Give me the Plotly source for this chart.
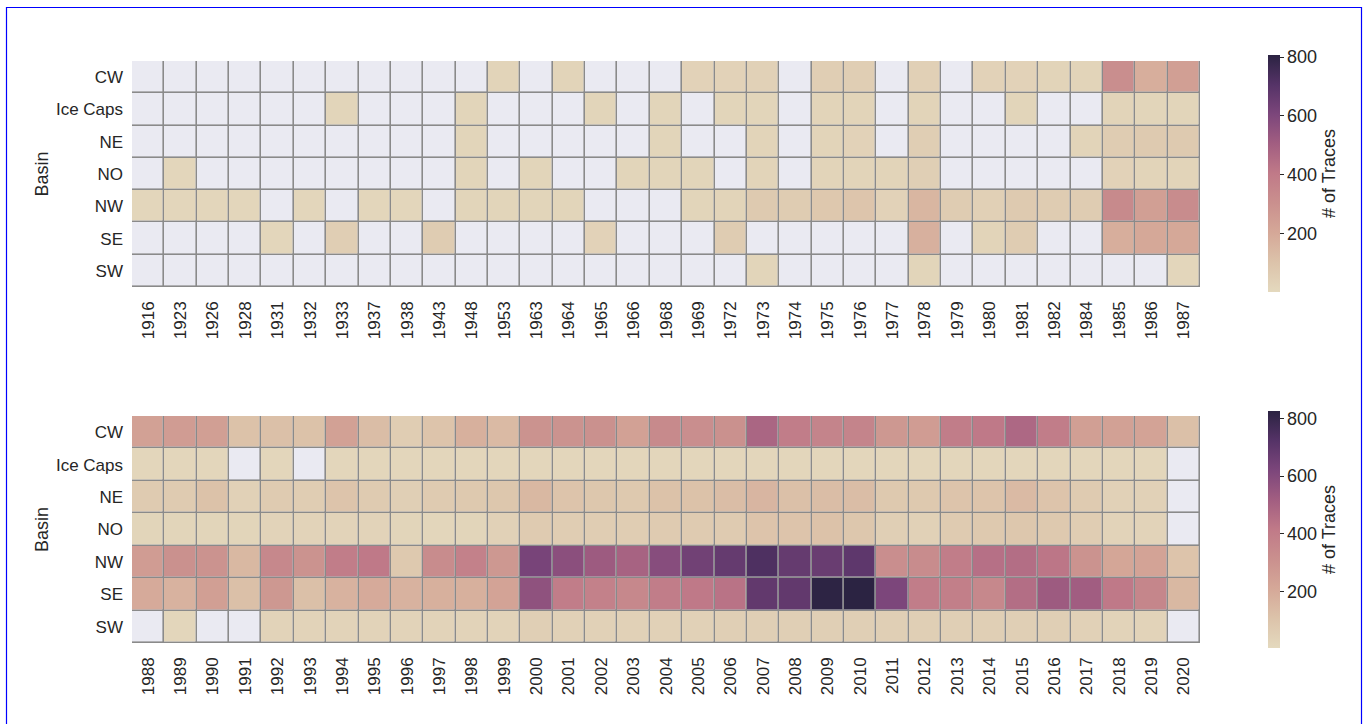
import plotly.graph_objects as go

basins = ["CW", "Ice Caps", "NE", "NO", "NW", "SE", "SW"]

years_top = ["1916", "1923", "1926", "1928", "1931", "1932", "1933", "1937", "1938", "1943",
             "1948", "1953", "1963", "1964", "1965", "1966", "1968", "1969", "1972", "1973",
             "1974", "1975", "1976", "1977", "1978", "1979", "1980", "1981", "1982", "1984",
             "1985", "1986", "1987"]
years_bottom = [str(y) for y in range(1988, 2021)]

N = None
top_cw = [N, N, N, N, N, N, N, N, N, N, N, 25, N, 25, N, N, N, 30, 30, 35, N, 50, 50, N, 40, N, 30, 30, 25, 25, 310, 180, 240]
top_ice = [N, N, N, N, N, N, 20, N, N, N, 20, N, N, N, 20, N, 20, N, 20, 20, N, 25, 25, N, 25, N, N, 20, N, N, 25, 20, 20]
top_ne = [N, N, N, N, N, N, N, N, N, N, 20, N, N, N, N, N, 20, N, N, 25, N, 25, 30, N, 50, N, N, N, N, 25, 60, 70, 70]
top_no = [N, 15, N, N, N, N, N, N, N, N, 20, N, 20, N, N, 20, 20, 20, N, 25, N, 25, 25, 25, 45, N, N, N, N, N, 30, 25, 25]
top_nw = [15, 15, 15, 15, N, 15, N, 15, 15, N, 20, 20, 20, 20, N, N, N, 20, 25, 70, 60, 80, 90, 30, 150, 60, 40, 70, 60, 60, 330, 240, 320]
top_se = [N, N, N, N, 15, N, 50, N, N, 60, N, N, N, N, 30, N, N, N, 60, N, N, N, N, N, 170, N, 25, 60, N, N, 180, 200, 200]
top_sw = [N, N, N, N, N, N, N, N, N, N, N, N, N, N, N, N, N, N, N, 20, N, N, N, N, 20, N, N, N, N, N, N, N, 15]

bot_cw = [240, 260, 250, 110, 120, 110, 240, 130, 60, 100, 180, 140, 300, 300, 310, 240, 340, 320, 310, 490, 400, 370, 370, 280, 260, 400, 420, 480, 400, 250, 240, 230, 120]
bot_ice = [20, 20, 20, N, 20, N, 20, 20, 20, 20, 20, 20, 20, 20, 20, 20, 20, 20, 20, 20, 20, 20, 20, 20, 20, 20, 20, 20, 20, 20, 20, 20, N]
bot_ne = [70, 70, 110, 40, 70, 60, 100, 70, 50, 70, 80, 90, 150, 100, 90, 80, 110, 110, 130, 160, 120, 130, 130, 80, 80, 100, 100, 140, 100, 70, 40, 40, N]
bot_no = [25, 25, 25, 25, 30, 30, 30, 30, 25, 20, 25, 40, 70, 60, 60, 60, 70, 70, 70, 100, 100, 110, 90, 50, 40, 70, 80, 90, 80, 60, 30, 30, N]
bot_nw = [260, 310, 300, 150, 350, 300, 400, 420, 80, 330, 380, 280, 630, 580, 530, 500, 590, 650, 680, 740, 680, 670, 700, 320, 330, 400, 450, 460, 430, 300, 220, 230, 100]
bot_se = [200, 170, 250, 120, 280, 120, 170, 200, 170, 180, 180, 230, 570, 400, 380, 350, 400, 420, 440, 690, 690, 820, 830, 620, 400, 390, 350, 460, 530, 520, 420, 360, 150]
bot_sw = [N, 20, N, N, 30, 30, 30, 30, 30, 30, 30, 30, 50, 40, 40, 40, 40, 40, 50, 50, 50, 50, 50, 50, 50, 50, 50, 50, 50, 40, 30, 30, N]

colorbar_ticks = [200, 400, 600, 800]

z_top = [top_cw, top_ice, top_ne, top_no, top_nw, top_se, top_sw]
z_bot = [bot_cw, bot_ice, bot_ne, bot_no, bot_nw, bot_se, bot_sw]

cscale = [
    [0.0, "#e4d9be"],
    [0.125, "#dcc3aa"],
    [0.25, "#d5a898"],
    [0.375, "#ca908e"],
    [0.5, "#c07a88"],
    [0.625, "#a25e81"],
    [0.75, "#7c467b"],
    [0.875, "#553367"],
    [1.0, "#2b2342"],
]

W, H = 1368, 724
FONT = "Liberation Sans, Arial, sans-serif"
TXT = "#262626"
GAP = 1.6

fig = go.Figure()


def add_panel(z, years, xa, ya, zmin, zmax, cb_top):
    bg = [[1 for _ in years] for _ in basins]
    fig.add_trace(go.Heatmap(z=bg, x=years, y=basins, xaxis=xa, yaxis=ya,
                             colorscale=[[0, "#eaeaf2"], [1, "#eaeaf2"]], showscale=False,
                             xgap=GAP, ygap=GAP, hoverinfo="skip"))
    fig.add_trace(go.Heatmap(
        z=z, x=years, y=basins, xaxis=xa, yaxis=ya,
        colorscale=cscale, zmin=zmin, zmax=zmax, xgap=GAP, ygap=GAP,
        colorbar=dict(
            x=1268 / W, xanchor="left", y=1 - cb_top / H, yanchor="top",
            xpad=0, ypad=0,
            len=237 / H, thickness=12, outlinewidth=0,
            tickvals=colorbar_ticks, ticks="outside", ticklen=4, tickcolor=TXT,
            tickfont=dict(family=FONT, size=18, color=TXT),
            title=dict(text="# of Traces", side="right",
                       font=dict(family=FONT, size=18, color=TXT)),
        ),
    ))


add_panel(z_top, years_top, "x", "y", 0, 807, 55)
add_panel(z_bot, years_bottom, "x2", "y2", 4, 826, 411)

axis_common_x = dict(type="category", tickangle=-90, showgrid=False, zeroline=False,
                     showline=False, ticks="", ticklabelstandoff=10,
                     tickfont=dict(family=FONT, size=17, color=TXT))
axis_common_y = dict(type="category", autorange="reversed", showgrid=False, zeroline=False,
                     showline=False, ticks="", ticklabelstandoff=8,
                     tickfont=dict(family=FONT, size=17, color=TXT),
                     title=dict(text="Basin", standoff=2, font=dict(family=FONT, size=18, color=TXT)))

fig.update_layout(
    width=W, height=H,
    margin=dict(l=0, r=0, t=0, b=0),
    paper_bgcolor="white",
    plot_bgcolor="#8a8a8a",
    xaxis=dict(domain=[132 / W, 1200 / W], anchor="y", **axis_common_x),
    yaxis=dict(domain=[1 - 287 / H, 1 - 61 / H], anchor="x", **axis_common_y),
    xaxis2=dict(domain=[132 / W, 1200 / W], anchor="y2", **axis_common_x),
    yaxis2=dict(domain=[1 - 643 / H, 1 - 416 / H], anchor="x2", **axis_common_y),
    shapes=[dict(type="rect", xref="paper", yref="paper",
                 x0=6.5 / W, x1=1361.5 / W, y0=-0.01, y1=1 - 7.5 / H,
                 line=dict(color="#0000ff", width=1.2), fillcolor="rgba(0,0,0,0)")],
)

fig.write_html("out.html", config={"displayModeBar": False},
               post_script="document.body.style.margin='0';")
